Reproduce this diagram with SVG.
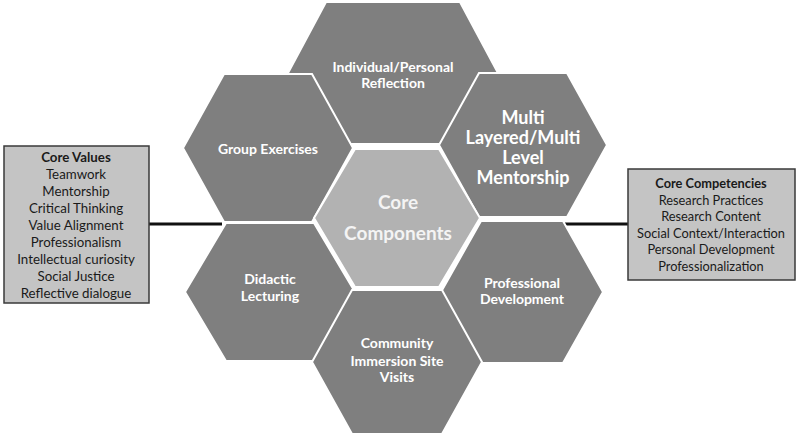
<svg xmlns="http://www.w3.org/2000/svg" width="800" height="438" viewBox="0 0 800 438">
<style>
.hex{fill:#7f7f7f;stroke:#ffffff;stroke-width:2;stroke-linejoin:miter}
.hexc{fill:#b2b2b2;stroke:#ffffff;stroke-width:2}
.ht{font-family:Lato,"Liberation Sans",sans-serif;font-weight:bold;fill:#ffffff;text-anchor:middle}
.ct{font-family:Lato,"Liberation Sans",sans-serif;font-weight:bold;font-size:19px;fill:#f4f4f4;text-anchor:middle}
.box{fill:#c4c4c4;stroke:#3a3a3a;stroke-width:1.5}
.bt{font-family:Lato,"Liberation Sans",sans-serif;font-size:13.3px;fill:#1a1a1a;text-anchor:middle}
.bt2{font-family:Lato,"Liberation Sans",sans-serif;font-size:12.8px;fill:#1a1a1a;text-anchor:middle}
.conn{stroke:#111111;stroke-width:3;fill:none}
</style>
<rect width="800" height="438" fill="#ffffff"/>
<g id="connectors">
<line class="conn" x1="149" y1="224" x2="222" y2="224"/>
<line class="conn" x1="565" y1="224" x2="628" y2="224"/>
</g>
<g id="hex-reflection">
<polygon class="hex" points="326,2 460,2 498,73 460,144 326,144 288,73"/>
<text class="ht" font-size="14" x="393" y="72">Individual/Personal</text>
<text class="ht" font-size="14" x="393" y="88">Reflection</text>
</g>
<g id="hex-group">
<polygon class="hex" points="224,74 312,74 353,148 312,222 224,222 183,148"/>
<text class="ht" font-size="14" x="268" y="154">Group Exercises</text>
</g>
<g id="hex-mentorship">
<polygon class="hex" points="479,73 567,73 607,145 567,217 479,217 439,145"/>
<text class="ht" font-size="18" x="523" y="124">Multi</text>
<text class="ht" font-size="18" x="523" y="144">Layered/Multi</text>
<text class="ht" font-size="18" x="523" y="164">Level</text>
<text class="ht" font-size="18" x="523" y="184">Mentorship</text>
</g>
<g id="hex-didactic">
<polygon class="hex" points="226,223 314,223 355,292 314,361 226,361 185,292"/>
<text class="ht" font-size="14" x="270" y="284">Didactic</text>
<text class="ht" font-size="14" x="270" y="301">Lecturing</text>
</g>
<g id="hex-professional">
<polygon class="hex" points="481,221 563,221 603,292 563,363 481,363 441,292"/>
<text class="ht" font-size="14" x="522" y="288">Professional</text>
<text class="ht" font-size="14" x="522" y="304">Development</text>
</g>
<g id="hex-community">
<polygon class="hex" points="352,290 442,290 482,362 442,434 352,434 312,362"/>
<text class="ht" font-size="14" x="397" y="348">Community</text>
<text class="ht" font-size="14" x="397" y="366">Immersion Site</text>
<text class="ht" font-size="14" x="397" y="382">Visits</text>
</g>
<g id="hex-core">
<polygon class="hexc" points="355,149 439,149 480,218 439,287 355,287 314,218"/>
<text class="ct" x="398" y="209">Core</text>
<text class="ct" x="398" y="240">Components</text>
</g>
<g id="core-values">
<rect class="box" x="4" y="146" width="145" height="157"/>
<text class="bt" x="76" y="162" font-weight="bold">Core Values</text>
<text class="bt" x="76" y="179">Teamwork</text>
<text class="bt" x="76" y="196">Mentorship</text>
<text class="bt" x="76" y="213">Critical Thinking</text>
<text class="bt" x="76" y="230">Value Alignment</text>
<text class="bt" x="76" y="247">Professionalism</text>
<text class="bt" x="76" y="264">Intellectual curiosity</text>
<text class="bt" x="76" y="281">Social Justice</text>
<text class="bt" x="76" y="298">Reflective dialogue</text>
</g>
<g id="core-competencies">
<rect class="box" x="628" y="169" width="167" height="111"/>
<text class="bt2" x="711" y="188" font-weight="bold">Core Competencies</text>
<text class="bt2" x="711" y="205">Research Practices</text>
<text class="bt2" x="711" y="221">Research Content</text>
<text class="bt2" x="711" y="238">Social Context/Interaction</text>
<text class="bt2" x="711" y="254">Personal Development</text>
<text class="bt2" x="711" y="271">Professionalization</text>
</g>
</svg>
